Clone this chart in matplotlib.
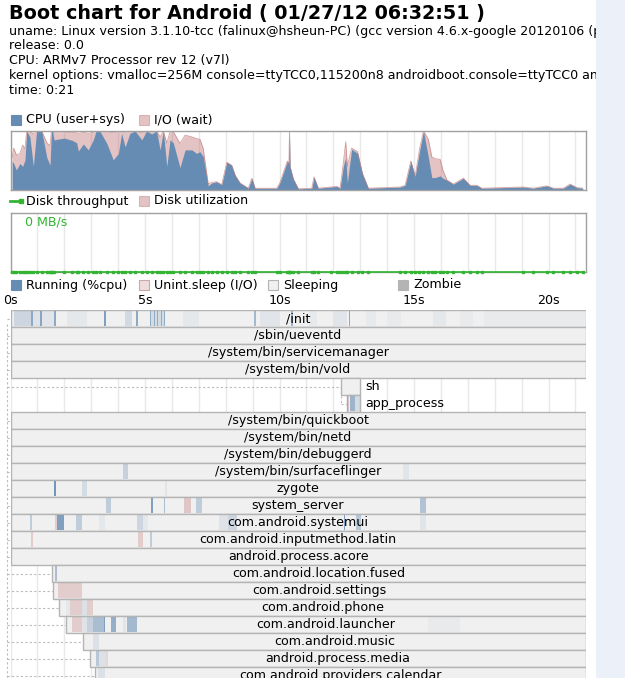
"""
Bootchart-style rendering of an Android boot: header, CPU load,
disk throughput and a per-process timeline.

Usage:
    python plot.py
"""

import numpy as np
import matplotlib
matplotlib.use("Agg")
import matplotlib.pyplot as plt
from matplotlib.patches import Rectangle
from matplotlib.lines import Line2D

# ---------------------------------------------------------------- data
TITLE = "Boot chart for Android ( 01/27/12 06:32:51 )"
HEADER_LINES = [
    "uname: Linux version 3.1.10-tcc (falinux@hsheun-PC) (gcc version 4.6.x-google 20120106 (prerelease) (GCC) )",
    "release: 0.0",
    "CPU: ARMv7 Processor rev 12 (v7l)",
    "kernel options: vmalloc=256M console=ttyTCC0,115200n8 androidboot.console=ttyTCC0 androidboot.hardware=tcc",
    "time: 0:21",
]

T_END = 21.38  # seconds covered by the charts

# CPU samples (seconds, fraction of time)
cpu_t = [0.06, 0.12, 0.22, 0.35, 0.45, 0.54, 0.60, 0.72, 0.85, 0.97,
         1.16, 1.35, 1.47, 1.52, 1.56, 1.62, 2.00, 2.30, 2.46, 2.52,
         2.71, 2.89, 3.08, 3.18, 3.33, 3.58, 3.82, 4.01, 4.13, 4.26,
         4.44, 4.63, 4.88, 5.06, 5.25, 5.43, 5.56, 5.68, 5.81, 5.93,
         6.05, 6.30, 6.49, 6.74, 6.92, 7.04, 7.16, 7.35, 7.48, 7.66,
         7.85, 8.04, 8.22, 8.35, 8.53, 8.84, 8.97, 9.09, 9.90, 10.02,
         10.29, 10.35, 10.37, 10.39, 10.51, 10.70, 11.20, 11.28, 11.44, 11.90,
         12.13, 12.25, 12.37, 12.46, 12.52, 12.68, 12.90, 13.08, 13.30, 14.48,
         14.67, 14.88, 15.04, 15.20, 15.35, 15.53, 15.66, 15.78, 15.97, 16.07,
         16.22, 16.46, 16.83, 17.08, 17.33, 17.52, 19.06, 19.43, 19.93, 20.18,
         20.55, 20.80, 21.05, 21.27]
cpu_busy = [0.49, 0.45, 0.34, 0.45, 0.40, 0.51, 1.00, 0.90, 0.40, 1.00,
            1.00, 0.55, 0.42, 1.00, 1.00, 0.85, 0.88, 0.84, 0.80, 0.66,
            0.78, 0.68, 0.85, 1.00, 0.99, 0.79, 0.51, 0.62, 0.96, 0.73,
            0.96, 1.00, 0.85, 1.00, 0.95, 1.00, 0.68, 1.00, 0.40, 0.85,
            0.80, 0.38, 0.68, 0.68, 0.62, 0.65, 0.57, 0.07, 0.12, 0.14,
            0.09, 0.47, 0.42, 0.25, 0.12, 0.03, 0.20, 0.03, 0.03, 0.13,
            0.49, 0.45, 1.00, 0.40, 0.19, 0.02, 0.03, 0.22, 0.03, 0.05,
            0.06, 0.03, 0.40, 0.55, 0.12, 0.69, 0.62, 0.28, 0.03, 0.05,
            0.08, 0.49, 0.23, 0.65, 1.00, 0.56, 0.21, 0.21, 0.24, 0.20,
            0.17, 0.10, 0.20, 0.08, 0.08, 0.03, 0.05, 0.03, 0.07, 0.03,
            0.03, 0.10, 0.04, 0.03]
io_wait = [0.06, 0.26, 0.25, 0.17, 0.36, 0.19, 0.00, 0.10, 0.55, 0.00,
           0.00, 0.25, 0.33, 0.00, 0.00, 0.12, 0.09, 0.14, 0.17, 0.30,
           0.20, 0.28, 0.13, 0.00, 0.01, 0.20, 0.46, 0.37, 0.04, 0.25,
           0.04, 0.00, 0.12, 0.00, 0.05, 0.00, 0.22, 0.00, 0.39, 0.14,
           0.19, 0.41, 0.25, 0.22, 0.25, 0.21, 0.14, 0.03, 0.01, 0.00,
           0.00, 0.00, 0.00, 0.00, 0.00, 0.00, 0.00, 0.00, 0.00, 0.00,
           0.00, 0.00, 0.00, 0.00, 0.00, 0.00, 0.00, 0.00, 0.00, 0.00,
           0.00, 0.00, 0.05, 0.27, 0.28, 0.02, 0.03, 0.00, 0.00, 0.00,
           0.00, 0.00, 0.00, 0.03, 0.00, 0.30, 0.35, 0.32, 0.28, 0.14,
           0.00, 0.00, 0.00, 0.00, 0.00, 0.00, 0.00, 0.00, 0.00, 0.00,
           0.00, 0.00, 0.00, 0.00]

# disk samples share the cpu clock; throughput never leaves 0 MB/s
disk_t = cpu_t
disk_mbps = [0.0] * len(disk_t)

# process timeline (seconds)
proc_names = ["/init", "/sbin/ueventd", "/system/bin/servicemanager",
              "/system/bin/vold", "sh", "app_process",
              "/system/bin/quickboot", "/system/bin/netd",
              "/system/bin/debuggerd", "/system/bin/surfaceflinger",
              "zygote", "system_server", "com.android.systemui",
              "com.android.inputmethod.latin", "android.process.acore",
              "com.android.location.fused", "com.android.settings",
              "com.android.phone", "com.android.launcher",
              "com.android.music", "android.process.media",
              "com.android.providers.calendar"]
proc_start = [0.0, 0.0, 0.0, 0.0, 12.27, 12.51, 0.0, 0.0, 0.0, 0.0,
              0.0, 0.0, 0.0, 0.0, 0.0, 1.55, 1.59, 1.81, 2.07, 2.71,
              2.97, 3.15]
proc_end = [T_END, T_END, T_END, T_END, 12.99, 12.99, T_END, T_END,
            T_END, T_END, T_END, T_END, T_END, T_END, T_END, T_END,
            T_END, T_END, T_END, T_END, T_END, T_END]
proc_parent = [-1, -1, -1, -1, -1, 4, -1, -1, -1, -1, -1, -1, -1, -1,
               -1, -1, -1, -1, -1, -1, -1, -1]

# activity inside the process boxes: R = running (level = cpu share),
# D = uninterruptible sleep
strip_row = [0, 0, 0, 0, 0, 0, 0, 0, 0, 0, 0, 0, 0, 0, 0, 0, 0, 0, 0, 0,
             0, 0, 0, 0, 0, 0, 0, 0,
             5, 5, 5,
             9, 9,
             10, 10, 10,
             11, 11, 11, 11, 11, 11,
             12, 12, 12, 12, 12, 12, 12, 12, 12, 12, 12, 12,
             13, 13, 13,
             15,
             16,
             17, 17, 17, 17,
             18, 18, 18, 18, 18, 18, 18, 18, 18,
             19,
             20, 20, 20,
             21]
strip_start = [0.13, 0.78, 0.84, 1.10, 1.16, 1.60, 2.10, 3.48, 4.26, 4.68,
               5.17, 5.19, 5.32, 5.45, 5.58, 5.70, 6.40, 9.06, 9.28, 10.43,
               11.10, 12.00, 12.57, 13.20, 14.00, 15.70, 16.70, 17.60,
               12.51, 12.62, 12.80,
               4.20, 14.60,
               1.62, 2.65, 5.74,
               3.55, 5.24, 5.69, 6.45, 6.90, 15.22,
               0.73, 1.66, 1.73, 2.43, 3.30, 4.71, 4.93, 7.76, 8.10, 12.38,
               12.85, 15.22,
               0.78, 4.74, 5.19,
               1.67,
               1.77,
               2.05, 2.21, 2.65, 2.85,
               2.28, 2.65, 2.85, 3.06, 3.48, 3.73, 4.20, 4.33, 15.50,
               3.05,
               3.18, 3.30, 3.55,
               3.25]
strip_end = [0.78, 0.84, 1.10, 1.16, 1.60, 1.68, 2.85, 3.54, 4.50, 4.73,
             5.75, 5.23, 5.36, 5.49, 5.62, 5.74, 7.00, 9.12, 10.00, 10.49,
             11.40, 12.50, 12.63, 13.60, 14.50, 16.20, 17.20, 21.35,
             12.60, 12.80, 12.99,
             4.35, 14.80,
             1.69, 2.85, 5.80,
             3.73, 5.29, 5.73, 6.70, 7.12, 15.45,
             0.80, 1.73, 1.99, 2.66, 3.50, 4.93, 5.10, 8.10, 8.42, 12.42,
             13.03, 15.45,
             0.84, 4.93, 5.26,
             1.72,
             2.65,
             2.21, 2.65, 2.85, 3.06,
             2.65, 2.85, 3.06, 3.48, 3.52, 3.92, 4.30, 4.70, 16.70,
             3.30,
             3.30, 3.55, 3.62,
             3.50]
strip_state = ["R"] * 28 + ["D", "R", "R"] + ["R", "R"] + ["R", "R", "R"] \
    + ["R", "R", "R", "D", "R", "R"] \
    + ["R", "D", "R", "R", "R", "R", "R", "R", "R", "R", "R", "R"] \
    + ["D", "D", "R"] + ["R"] + ["D"] + ["R", "D", "R", "D"] \
    + ["D", "R", "R", "R", "R", "R", "R", "R", "R"] + ["R"] \
    + ["R", "R", "D"] + ["R"]
strip_level = [0.25, 0.70, 0.12, 0.75, 0.10, 0.70, 0.08, 0.80, 0.22, 0.70,
               0.20, 0.60, 0.60, 0.60, 0.60, 0.60, 0.08, 0.55, 0.10, 0.60,
               0.06, 0.10, 0.70, 0.06, 0.05, 0.08, 0.05, 0.05,
               0.30, 0.60, 0.20,
               0.30, 0.10,
               0.90, 0.20, 0.10,
               0.35, 0.80, 0.50, 0.35, 0.35, 0.45,
               0.35, 0.30, 0.80, 0.35, 0.08, 0.25, 0.08, 0.12, 0.25, 0.80,
               0.40, 0.10,
               0.30, 0.30, 0.35,
               0.50,
               0.30,
               0.08, 0.30, 0.15, 0.30,
               0.30, 0.12, 0.30, 0.50, 0.80, 0.65, 0.10, 0.55, 0.05,
               0.15,
               0.40, 0.15, 0.20,
               0.15]

time_ticks = [0, 5, 10, 15, 20]
time_labels = ["0s", "5s", "10s", "15s", "20s"]

# ---------------------------------------------------------------- style
W, H = 625, 678
CPU_COLOR = (0.40, 0.55, 0.70)
IO_COLOR = (0.76, 0.48, 0.48)
DISK_COLOR = (0.20, 0.71, 0.20)
SLEEP_COLOR = "#f0f0f0"
ZOMBIE_COLOR = "#b4b4b4"
BORDER = "#a0a0a0"
PROC_BORDER = "#b4b4b4"
GRID = "#e8e8e8"
FONT = 9.1


def fx(px):
    return px / W


def fy(py):
    return 1 - py / H


def add_axes(top, bottom):
    return fig.add_axes([fx(10.5), fy(bottom), (585.7 - 10.5) / W, (bottom - top) / H])


def legend_square(x, y, color, label, edge=None):
    fig.patches.append(Rectangle((fx(x), fy(y + 5)), 10 / W, 10 / H,
                                 transform=fig.transFigure, fc=color,
                                 ec=edge if edge else color, lw=0.8))
    fig.text(fx(x + 15), fy(y), label, fontsize=FONT, va="center")


def chart_frame(ax):
    ax.set_xlim(0, T_END)
    ax.set_xticks(np.arange(0, 22))
    ax.tick_params(length=0, labelbottom=False, labelleft=False)
    ax.set_yticks([])
    ax.grid(axis="x", color=GRID, lw=1)
    ax.set_axisbelow(True)
    for s in ax.spines.values():
        s.set_color(BORDER)
        s.set_linewidth(1)


fig = plt.figure(figsize=(W / 100, H / 100), dpi=100)
fig.patch.set_facecolor("white")

# header
fig.text(fx(9), fy(13), TITLE, fontsize=13.8, fontweight="bold", va="center")
for i, line in enumerate(HEADER_LINES):
    fig.text(fx(9), fy(31 + i * 14.75), line, fontsize=FONT, va="center")

# CPU chart
legend_square(11, 120, CPU_COLOR, "CPU (user+sys)")
legend_square(139, 120, IO_COLOR + (0.45,), "I/O (wait)")
ax_cpu = add_axes(131, 190)
chart_frame(ax_cpu)
ax_cpu.set_ylim(0, 1)
busy = np.array(cpu_busy)
total = busy + np.array(io_wait)
ax_cpu.fill_between(cpu_t, 0, total, color=IO_COLOR, alpha=0.45, lw=0)
ax_cpu.plot(cpu_t, total, color=IO_COLOR, alpha=0.7, lw=0.6)
ax_cpu.fill_between(cpu_t, 0, busy, color=CPU_COLOR, lw=0)

# disk chart
fig.lines.append(Line2D([fx(10), fx(21)], [fy(201), fy(201)], color=DISK_COLOR,
                        lw=2, marker="s", ms=3, markevery=[1],
                        transform=fig.transFigure))
fig.text(fx(26), fy(201), "Disk throughput", fontsize=FONT, va="center")
legend_square(139, 201, IO_COLOR + (0.45,), "Disk utilization")
ax_disk = add_axes(212.5, 271.5)
chart_frame(ax_disk)
ax_disk.set_ylim(0, 1)
ax_disk.plot(disk_t, disk_mbps, color=DISK_COLOR, lw=1.2, marker="s", ms=1.5,
             clip_on=False, zorder=3)
ax_disk.text(0.55, 0.84, "%d MB/s" % max(disk_mbps), color=DISK_COLOR,
             fontsize=FONT, va="center")

# process legend
legend_square(11, 285, CPU_COLOR, "Running (%cpu)")
legend_square(139, 285, IO_COLOR + (0.25,), "Unint.sleep (I/O)", edge="#c8a8a8")
legend_square(268, 285, SLEEP_COLOR, "Sleeping", edge=PROC_BORDER)
legend_square(398, 285, ZOMBIE_COLOR, "Zombie")

# process timeline
n_rows = (678 - 310) / 17
ax_p = fig.add_axes([fx(10.5), 0, (585.7 - 10.5) / W, (678 - 310) / H])
ax_p.set_xlim(0, T_END)
ax_p.set_ylim(n_rows, 0)
for s in ax_p.spines.values():
    s.set_visible(False)
ax_p.xaxis.tick_top()
ax_p.set_xticks(time_ticks)
ax_p.set_xticklabels(time_labels, fontsize=FONT)
ax_p.set_xticks(np.arange(0, 22), minor=True)
ax_p.tick_params(which="both", length=0, pad=2.5)
ax_p.set_yticks([])
ax_p.grid(axis="x", which="both", color=GRID, lw=1, zorder=0)
ax_p.set_axisbelow(True)

rows = np.arange(len(proc_names))
starts = np.array(proc_start)
ends = np.array(proc_end)
trunk = -0.13

# dashed parent/child connectors
ax_p.plot([trunk, trunk], [0.8, len(proc_names)], color="#bbbbbb", lw=0.8,
          ls=(0, (2, 2)), clip_on=False, zorder=1)
for r in rows:
    px = trunk if proc_parent[r] < 0 else proc_start[proc_parent[r]]
    if proc_parent[r] >= 0:
        ax_p.plot([px, px], [proc_parent[r] + 0.5, r + 0.5], color="#bbbbbb",
                  lw=0.8, ls=(0, (2, 2)), zorder=1)
    ax_p.plot([px, starts[r]], [r + 0.5, r + 0.5], color="#bbbbbb", lw=0.8,
              ls=(0, (2, 2)), clip_on=False, zorder=1)

ax_p.barh(rows, ends - starts, left=starts, height=1, align="edge",
          color=SLEEP_COLOR, edgecolor=PROC_BORDER, lw=1, zorder=2)

colors = [CPU_COLOR + (lvl,) if st == "R" else IO_COLOR + (lvl,)
          for st, lvl in zip(strip_state, strip_level)]
ax_p.barh(np.array(strip_row) + 0.06, np.array(strip_end) - np.array(strip_start),
          left=strip_start, height=0.88, align="edge", color=colors, lw=0,
          zorder=3)

px_per_s = (585.7 - 10.5) / T_END
for r, name in enumerate(proc_names):
    width_px = (proc_end[r] - proc_start[r]) * px_per_s
    if width_px > 100:
        ax_p.text((proc_start[r] + proc_end[r]) / 2, r + 0.5, name,
                  fontsize=FONT, ha="center", va="center", zorder=4)
    else:
        ax_p.text(proc_end[r] + 5 / px_per_s, r + 0.5, name, fontsize=FONT,
                  ha="left", va="center", zorder=4)

# page background strip on the right
fig.patches.append(Rectangle((fx(596), 0), 1 - fx(596), 1,
                             transform=fig.transFigure, fc="#ecf0f9",
                             ec="none", zorder=10))

fig.savefig("out.png", dpi=100)
